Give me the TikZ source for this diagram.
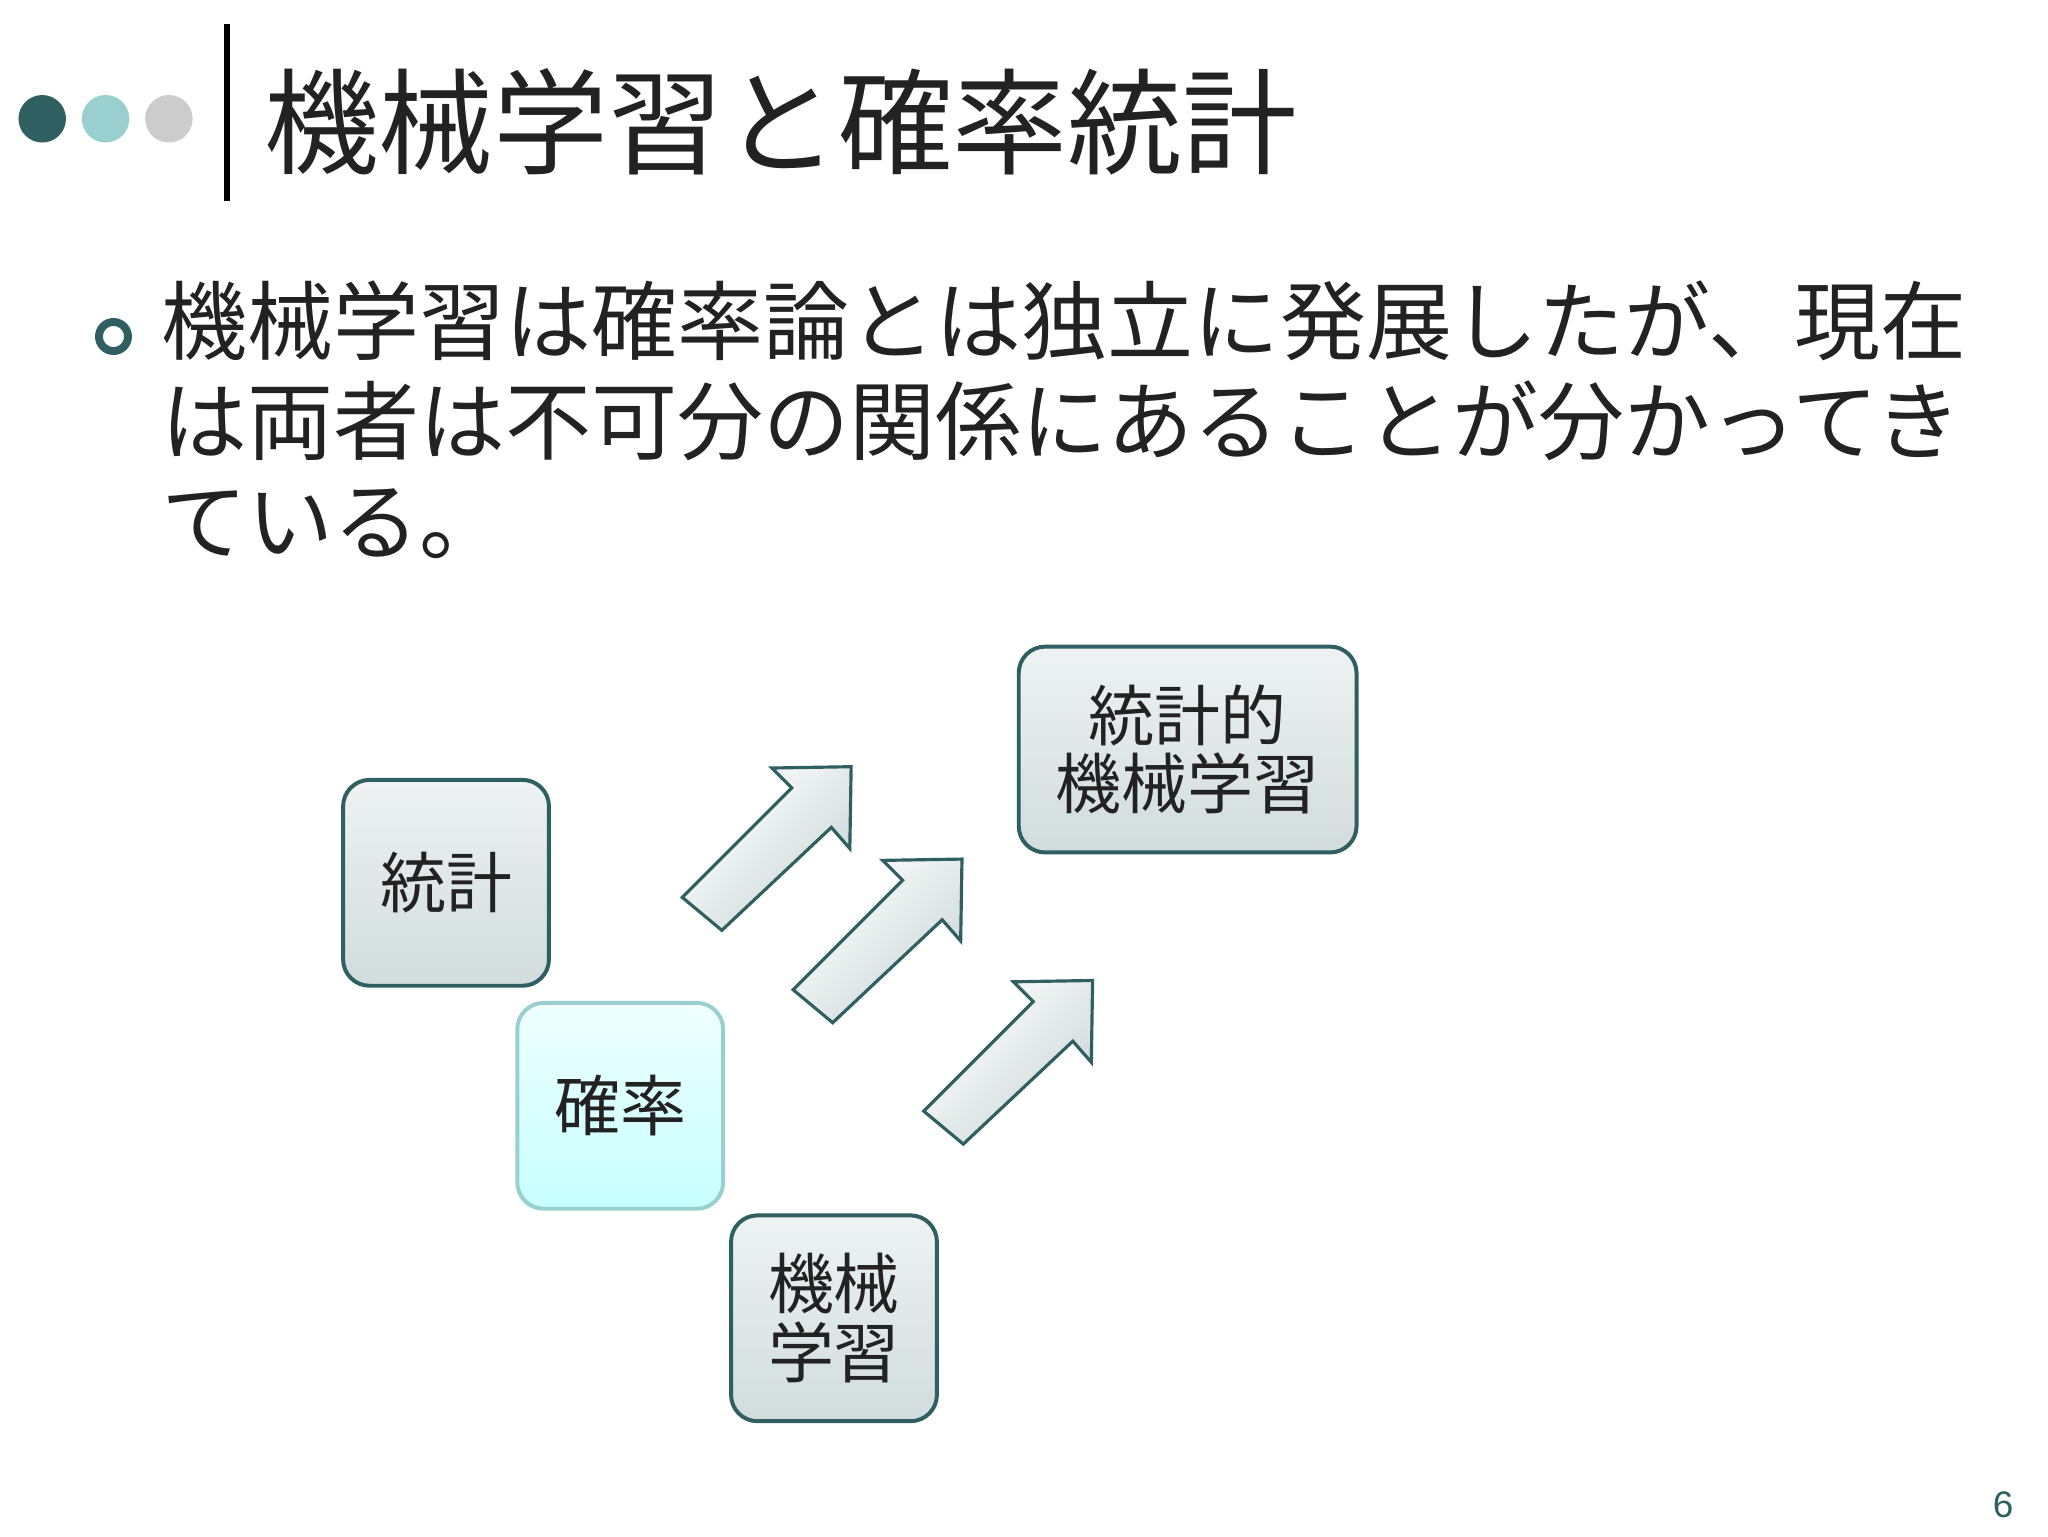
\documentclass[tikz,border=0pt]{standalone}
\usepackage{fontspec}
\setmainfont{Noto Sans CJK JP}
\newfontfamily\latinf{Liberation Sans}
\definecolor{dteal}{HTML}{2F5F60}
\definecolor{lteal}{HTML}{9ACFCF}
\definecolor{lgrey}{HTML}{CCCCCC}
\definecolor{txt}{HTML}{222222}
\tikzset{
 box/.style={draw=dteal, line width=1.5pt, rounded corners=10pt, top color=white!92!dteal, bottom color=dteal!22},
 cbox/.style={draw=lteal, line width=1.5pt, rounded corners=10pt, top color=cyan!6, bottom color=cyan!22},
 blk/.style={draw=dteal, line width=1.2pt, top color=white, bottom color=dteal!25, shading angle=45},
 boxtxt/.style={font=\fontsize{25}{30}\selectfont, text=txt, align=center}
}
\begin{document}
\begin{tikzpicture}[x=0.5pt,y=-0.5pt]
\useasboundingbox (0,0) rectangle (1552,1164);
\fill[white] (0,0) rectangle (1552,1164);
\fill[dteal] (32,90) circle (18);
\fill[lteal] (80,90) circle (18);
\fill[lgrey] (128,90) circle (18);
\draw[line width=2.5pt] (172,18) -- (172,152);
\node[anchor=west, font=\fontsize{43.5}{47}\selectfont, text=txt] (title) at (193,92) {機械学習と確率統計};
\draw[dteal, line width=3pt] (86,255) circle (11);
\node[anchor=north west, font=\fontsize{32.6}{38}\selectfont, text=txt, align=left, text width=720pt, inner sep=0pt] (body) at (122,212)
 {機械学習は確率論とは独立に発展したが、現在\\は両者は不可分の関係にあることが分かってき\\ている。};
\node[box, minimum width=78pt, minimum height=78pt, boxtxt] (s) at (338,669) {統計};
\node[cbox, minimum width=78pt, minimum height=78pt, boxtxt] (p) at (470,838) {確率};
\node[box, minimum width=78pt, minimum height=78pt, boxtxt] (m) at (632,999) {機械\\[-4pt]学習};
\node[box, minimum width=128pt, minimum height=78pt, boxtxt] (sm) at (900,568) {統計的\\[-4pt]機械学習};
\foreach \dx/\dy in {0/0, 84/70, 183/162}{
 \draw[blk, shift={(\dx,\dy)}] (517,680) -- (600,597) -- (585,582) -- (645,581) -- (644,643) -- (630,627) -- (547,705) -- cycle;
}
\node[font=\latinf\fontsize{14}{16}\selectfont, text=dteal] (pg) at (1518,1140) {6};
\end{tikzpicture}
\end{document}
